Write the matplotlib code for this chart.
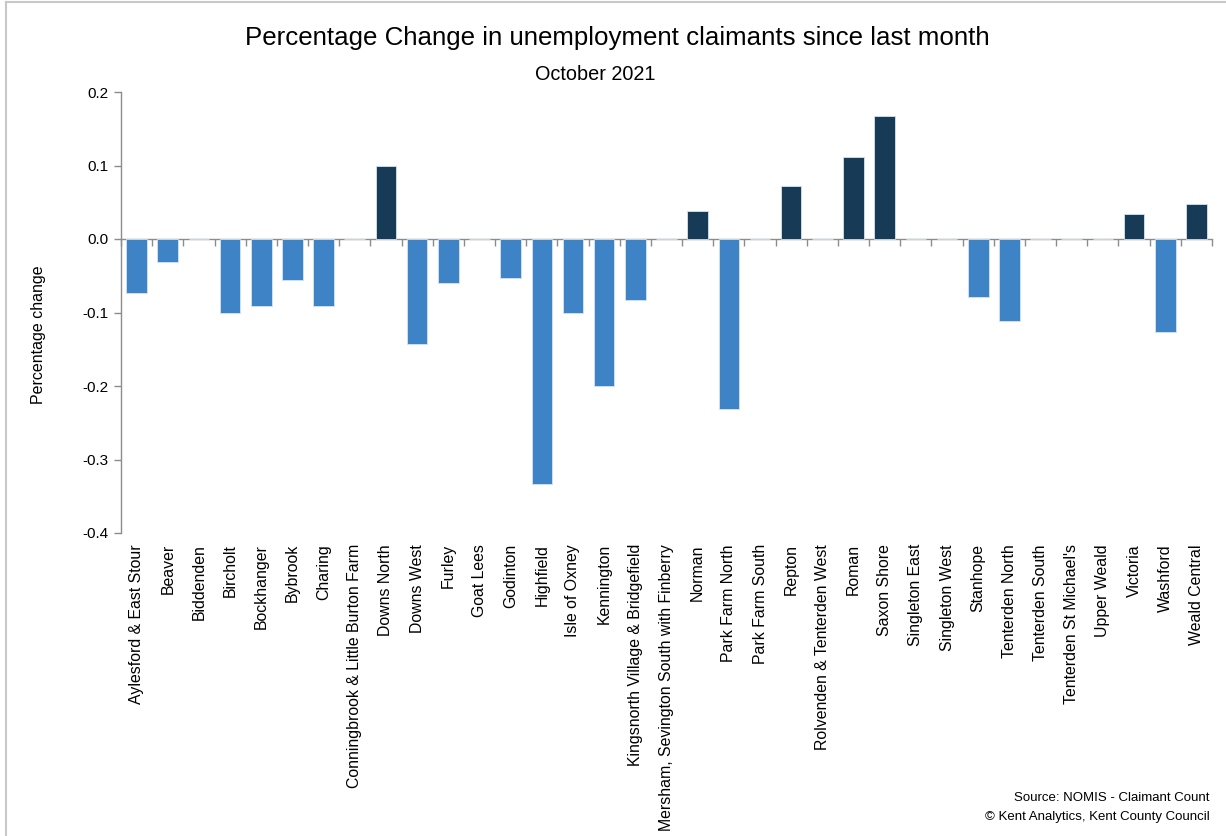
import numpy as np
import matplotlib
matplotlib.use('Agg')
import matplotlib.pyplot as plt
from matplotlib.lines import Line2D
from matplotlib import font_manager

plt.rcParams['font.family'] = ['Liberation Sans', 'DejaVu Sans']

wards = ['Aylesford & East Stour', 'Beaver', 'Biddenden', 'Bircholt', 'Bockhanger',
         'Bybrook', 'Charing', 'Conningbrook & Little Burton Farm', 'Downs North',
         'Downs West', 'Furley', 'Goat Lees', 'Godinton', 'Highfield', 'Isle of Oxney',
         'Kennington', 'Kingsnorth Village & Bridgefield',
         'Mersham, Sevington South with Finberry', 'Norman', 'Park Farm North',
         'Park Farm South', 'Repton', 'Rolvenden & Tenterden West', 'Roman',
         'Saxon Shore', 'Singleton East', 'Singleton West', 'Stanhope',
         'Tenterden North', 'Tenterden South', "Tenterden St Michael's", 'Upper Weald',
         'Victoria', 'Washford', 'Weald Central']
pct_change = [-0.074, -0.031, 0.0, -0.100, -0.091, -0.056, -0.091, 0.0, 0.100,
              -0.143, -0.060, 0.0, -0.053, -0.334, -0.100, -0.200, -0.083, 0.0,
              0.038, -0.231, 0.0, 0.072, 0.0, 0.111, 0.167, 0.0, 0.0, -0.079,
              -0.111, 0.0, 0.0, 0.0, 0.034, -0.126, 0.048]
y_ticks = [-0.4, -0.3, -0.2, -0.1, 0.0, 0.1, 0.2]

neg_col = '#3E83C5'
pos_col = '#173A56'
grey = '#8C8C8C'

# title in the original is a condensed face
installed = {f.name for f in font_manager.fontManager.ttflist}
if 'Liberation Sans Narrow' in installed:
    title_font = dict(family='Liberation Sans Narrow', size=22.5)
    sub_font = dict(family='Liberation Sans Narrow', size=17)
else:
    title_font = dict(family='Liberation Sans', size=18.6)
    sub_font = dict(family='Liberation Sans', size=14.3)

fig = plt.figure(figsize=(12.26, 8.36), dpi=100)
ax = fig.add_axes([121 / 1226, 1 - 533 / 836, (1212 - 121) / 1226, (533 - 92) / 836])

x = np.arange(len(wards))
vals = np.array(pct_change)
colors = [pos_col if v > 0 else neg_col for v in vals]
ax.bar(x, vals, width=0.66, color=colors, edgecolor='#D5E3F0', linewidth=0.6, zorder=2)

ax.set_xlim(-0.5, len(wards) - 0.5)
ax.set_ylim(-0.4, 0.2)
ax.set_yticks(y_ticks)
ax.set_yticklabels([f'{t:.1f}' for t in y_ticks], fontsize=11)
ax.set_xticks(x)
ax.set_xticklabels(wards, rotation=90, fontsize=11.4)
ax.tick_params(axis='x', length=0, pad=8)
ax.tick_params(axis='y', length=5, color=grey, width=1, pad=4)

for s in ['top', 'right', 'bottom']:
    ax.spines[s].set_visible(False)
ax.spines['left'].set_color(grey)
ax.spines['left'].set_linewidth(1)

# zero line with category boundary ticks pointing down
zero_pos = (0 - (-0.4)) / 0.6
sec = ax.secondary_xaxis(zero_pos)
sec.set_alignment('bottom')
sec.set_xticks(np.arange(-0.5, len(wards), 1.0))
sec.set_xticklabels([])
sec.tick_params(length=5, color=grey, width=1, direction='out')
sec.spines['bottom'].set_color(grey)
sec.spines['bottom'].set_linewidth(1)
sec.spines['bottom'].set_zorder(3)

ax.set_ylabel('Percentage change', fontsize=11.5)
ax.yaxis.set_label_coords(-0.069, 0.449)

fig.text(617 / 1226, 1 - 38 / 836, 'Percentage Change in unemployment claimants since last month',
         ha='center', va='center', **title_font)
fig.text(595 / 1226, 1 - 75 / 836, 'October 2021', ha='center', va='center', **sub_font)

fig.text(1210 / 1226, 1 - 798 / 836, 'Source: NOMIS - Claimant Count',
         ha='right', va='center', fontsize=9.5)
fig.text(1210 / 1226, 1 - 817 / 836, '\u00a9 Kent Analytics, Kent County Council',
         ha='right', va='center', fontsize=9.5)

# outer frame (top and left edges visible in the original)
fig.add_artist(Line2D([6 / 1226, 6 / 1226], [0, 1 - 1.5 / 836], color='#C8C8C8', lw=1.5))
fig.add_artist(Line2D([6 / 1226, 1], [1 - 1.5 / 836, 1 - 1.5 / 836], color='#C8C8C8', lw=1.5))

fig.savefig('out.png', dpi=100)
